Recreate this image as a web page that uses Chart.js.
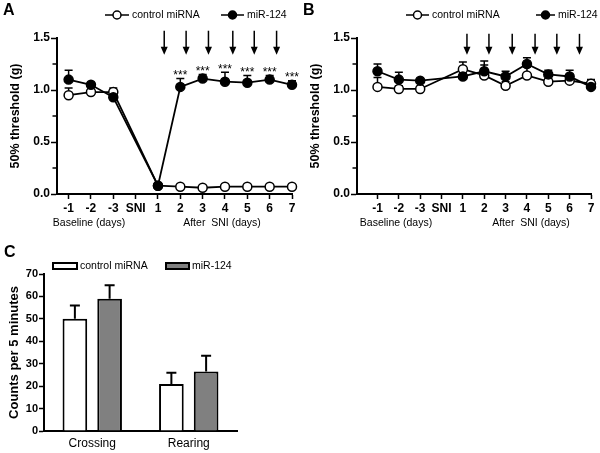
<!DOCTYPE html>
<html>
<head>
<meta charset="utf-8">
<script src="https://cdn.jsdelivr.net/npm/chart.js@4.4.0/dist/chart.umd.min.js"></script>
<style>
  body { margin: 0; background: #fff; }
  #wrap { position: relative; width: 600px; height: 453px; }
  canvas { position: absolute; }
</style>
</head>
<body>
<div id="wrap">
  <canvas id="chartA" width="300" height="235" style="left:0;top:0"></canvas>
  <canvas id="chartB" width="300" height="235" style="left:300px;top:0"></canvas>
  <canvas id="chartC" width="300" height="218" style="left:0;top:235px"></canvas>
</div>
<script>
// x categories for A and B
const days = ["-1", "-2", "-3", "SNI", "1", "2", "3", "4", "5", "6", "7"];

// panel A - 50% threshold (g)
const ctrlA = [0.95, 0.98, 0.98, null, 0.08, 0.07, 0.06, 0.07, 0.07, 0.07, 0.07];
const ctrlAErr = [0.07, 0.01, 0.04, null, 0, 0, 0, 0, 0, 0, 0];
const mirA = [1.10, 1.05, 0.93, null, 0.08, 1.03, 1.11, 1.08, 1.07, 1.10, 1.05];
const mirAErr = [0.09, 0.02, 0.02, null, 0, 0.08, 0.04, 0.09, 0.07, 0.04, 0.04];
const starsA = ["", "", "", "", "", "***", "***", "***", "***", "***", "***"];
const injectA = [4.28, 5.26, 6.26, 7.35, 8.31, 9.31];

// panel B
const ctrlB = [1.03, 1.01, 1.01, null, 1.20, 1.14, 1.04, 1.14, 1.08, 1.09, 1.06];
const ctrlBErr = [0.09, 0.03, 0.01, null, 0.07, 0.10, 0.04, 0.08, 0.03, 0.03, 0.04];
const mirB = [1.18, 1.10, 1.09, null, 1.13, 1.18, 1.13, 1.25, 1.15, 1.13, 1.03];
const mirBErr = [0.07, 0.07, 0.01, null, 0.03, 0.10, 0.05, 0.06, 0.04, 0.06, 0.03];
const injectB = [4.19, 5.22, 6.31, 7.38, 8.40, 9.46];

// panel C - counts per 5 minutes
const groups = ["Crossing", "Rearing"];
const ctrlC = [50, 21];
const ctrlCErr = [6, 5];
const mirC = [59, 26.5];
const mirCErr = [6, 7];

const FONT = "'Liberation Sans', Arial, sans-serif";
Chart.defaults.font.family = FONT;
Chart.defaults.color = "#000";
Chart.defaults.animation = false;

const extras = {
  id: "extras",
  beforeDatasetsDraw(chart, args, o) {
    const ctx = chart.ctx;
    const y = chart.scales.y;
    ctx.save();
    ctx.strokeStyle = "#000";
    ctx.lineWidth = o.errWidth || 1.5;
    chart.data.datasets.forEach((ds, i) => {
      if (!ds.errors) return;
      const meta = chart.getDatasetMeta(i);
      meta.data.forEach((el, j) => {
        const v = ds.values[j], e = ds.errors[j];
        if (v == null || !e) return;
        const y0 = y.getPixelForValue(v);
        const y1 = y.getPixelForValue(v + e);
        const w = (o.capWidth || 8) / 2;
        ctx.beginPath();
        ctx.moveTo(el.x, y0);
        ctx.lineTo(el.x, y1);
        ctx.moveTo(el.x - w, y1);
        ctx.lineTo(el.x + w, y1);
        ctx.stroke();
      });
    });
    ctx.restore();
  },
  afterDraw(chart, args, o) {
    const ctx = chart.ctx;
    const xs = chart.scales.x, ys = chart.scales.y;
    ctx.save();
    ctx.fillStyle = "#000";
    ctx.strokeStyle = "#000";

    // minor ticks
    (o.minor || []).forEach(v => {
      const py = ys.getPixelForValue(v);
      ctx.lineWidth = 1.5;
      ctx.beginPath();
      ctx.moveTo(ys.right - 4.5, py);
      ctx.lineTo(ys.right, py);
      ctx.stroke();
    });

    // injection arrows
    (o.arrows || []).forEach(a => {
      const px = xs.getPixelForValue(a);
      const t = ys.getPixelForValue(o.arrowFrom);
      const b = ys.getPixelForValue(o.arrowTo);
      ctx.lineWidth = 1.5;
      ctx.beginPath();
      ctx.moveTo(px, t);
      ctx.lineTo(px, b - 6);
      ctx.stroke();
      ctx.beginPath();
      ctx.moveTo(px - 3.5, b - 8);
      ctx.lineTo(px + 3.5, b - 8);
      ctx.lineTo(px, b);
      ctx.closePath();
      ctx.fill();
    });

    // significance stars
    if (o.stars) {
      const ds = chart.data.datasets[o.stars.dataset];
      ctx.font = "12px " + FONT;
      ctx.textAlign = "center";
      ctx.textBaseline = "alphabetic";
      o.stars.text.forEach((s, j) => {
        if (!s) return;
        const top = ys.getPixelForValue(ds.values[j] + (ds.errors[j] || 0));
        ctx.fillText(s, xs.getPixelForValue(j), top + 0.5);
      });
    }

    // legend
    (o.legend || []).forEach(l => {
      ctx.lineWidth = 1.5;
      if (l.type === "line") {
        ctx.beginPath();
        ctx.moveTo(l.x1, l.y);
        ctx.lineTo(l.x2, l.y);
        ctx.stroke();
        ctx.beginPath();
        ctx.arc((l.x1 + l.x2) / 2, l.y, 4, 0, Math.PI * 2);
        ctx.fillStyle = l.fill;
        ctx.fill();
        ctx.stroke();
      } else {
        ctx.lineWidth = 2;
        ctx.fillStyle = l.fill;
        ctx.fillRect(l.x1, l.y - 3, l.x2 - l.x1, 6);
        ctx.strokeRect(l.x1, l.y - 3, l.x2 - l.x1, 6);
      }
      ctx.fillStyle = "#000";
      ctx.font = "10.5px " + FONT;
      ctx.textAlign = "left";
      ctx.textBaseline = "middle";
      ctx.fillText(l.text, l.x2 + 3, l.y + 0.5);
    });

    // panel letter and extra axis titles
    if (o.letter) {
      ctx.font = "bold 16px " + FONT;
      ctx.textAlign = "left";
      ctx.textBaseline = "middle";
      ctx.fillText(o.letter.text, o.letter.x, o.letter.y);
    }
    (o.titles || []).forEach(t => {
      ctx.font = "10.5px " + FONT;
      ctx.textAlign = "center";
      ctx.textBaseline = "middle";
      ctx.fillText(t.text, t.x, t.y);
    });
    ctx.restore();
  }
};

function lineChart(id, ctrl, ctrlErr, mir, mirErr, xmin, right, extra) {
  const pts = arr => days.map((d, i) => ({ x: i, y: arr[i] }));
  return new Chart(document.getElementById(id), {
    type: "line",
    data: {
      datasets: [
        {
          label: "miR-124", data: pts(mir), values: mir, errors: mirErr, order: 0,
          borderColor: "#000", borderWidth: 1.8, pointRadius: 4.5, pointBorderWidth: 1.5,
          pointBackgroundColor: "#000", pointBorderColor: "#000", spanGaps: true, clip: false,
        },
        {
          label: "control miRNA", data: pts(ctrl), values: ctrl, errors: ctrlErr, order: 1,
          borderColor: "#000", borderWidth: 1.8, pointRadius: 4.5, pointBorderWidth: 1.5,
          pointBackgroundColor: "#fff", pointBorderColor: "#000", spanGaps: true, clip: false,
        },
      ],
    },
    options: {
      responsive: false,
      layout: { padding: { top: 38, right: right, left: 0, bottom: 0 } },
      plugins: { legend: { display: false }, tooltip: { enabled: false }, extras: extra },
      scales: {
        x: {
          type: "linear", min: xmin, max: 10,
          afterBuildTicks: s => { s.ticks = days.map((d, i) => ({ value: i })); },
          afterFit: s => { s.height = 41; },
          ticks: { callback: v => days[v], font: { size: 12, weight: "bold" }, padding: 2, autoSkip: false, maxRotation: 0 },
          grid: { drawOnChartArea: false, tickLength: 5, tickWidth: 1.5, tickColor: "#000" },
          border: { color: "#000", width: 2 },
        },
        y: {
          min: 0, max: 1.5,
          afterFit: s => { s.width = 57; },
          ticks: { stepSize: 0.5, callback: v => v.toFixed(1), font: { size: 12, weight: "bold" }, padding: 1 },
          grid: { drawOnChartArea: false, tickLength: 6, tickWidth: 1.5, tickColor: "#000" },
          border: { color: "#000", width: 2 },
          title: { display: true, text: "50% threshold (g)", font: { size: 12.5, weight: "bold" }, padding: { top: 8 } },
        },
      },
    },
    plugins: [extras],
  });
}

lineChart("chartA", ctrlA, ctrlAErr, mirA, mirAErr, -0.52, 8, {
  minor: [0.25, 0.75, 1.25],
  arrows: injectA, arrowFrom: 1.57, arrowTo: 1.34,
  stars: { dataset: 0, text: starsA },
  legend: [
    { type: "line", x1: 105, x2: 129, y: 15, fill: "#fff", text: "control miRNA" },
    { type: "line", x1: 221, x2: 244, y: 15, fill: "#000", text: "miR-124" },
  ],
  letter: { text: "A", x: 3, y: 11 },
  titles: [
    { text: "Baseline (days)", x: 89, y: 223 },
    { text: "After  SNI (days)", x: 222, y: 223 },
  ],
});

lineChart("chartB", ctrlB, ctrlBErr, mirB, mirBErr, -0.96, 9, {
  minor: [0.25, 0.75, 1.25],
  arrows: injectB, arrowFrom: 1.54, arrowTo: 1.34,
  legend: [
    { type: "line", x1: 106, x2: 129, y: 15, fill: "#fff", text: "control miRNA" },
    { type: "line", x1: 236, x2: 255, y: 15, fill: "#000", text: "miR-124" },
  ],
  letter: { text: "B", x: 3, y: 11 },
  titles: [
    { text: "Baseline (days)", x: 96, y: 223 },
    { text: "After  SNI (days)", x: 231, y: 223 },
  ],
});

new Chart(document.getElementById("chartC"), {
  type: "bar",
  data: {
    labels: groups,
    datasets: [
      { label: "control miRNA", data: ctrlC, values: ctrlC, errors: ctrlCErr, backgroundColor: "#fff", borderColor: "#000", borderWidth: 2 },
      { label: "miR-124", data: mirC, values: mirC, errors: mirCErr, backgroundColor: "#808080", borderColor: "#000", borderWidth: 2 },
    ],
  },
  options: {
    responsive: false,
    categoryPercentage: 0.72,
    barPercentage: 0.71,
    layout: { padding: { top: 39, right: 63, left: 0, bottom: 0 } },
    plugins: {
      legend: { display: false }, tooltip: { enabled: false },
      extras: {
        errWidth: 2, capWidth: 10,
        legend: [
          { type: "box", x1: 53, x2: 77, y: 31, fill: "#fff", text: "control miRNA" },
          { type: "box", x1: 166, x2: 189, y: 31, fill: "#808080", text: "miR-124" },
        ],
        letter: { text: "C", x: 4, y: 18 },
      },
    },
    scales: {
      x: {
        afterFit: s => { s.height = 22; },
        ticks: { font: { size: 12 }, padding: 5 },
        grid: { display: false, drawTicks: false },
        border: { color: "#000", width: 2 },
      },
      y: {
        min: 0, max: 70,
        afterFit: s => { s.width = 44; },
        ticks: { stepSize: 10, font: { size: 11, weight: "bold" }, padding: 1 },
        grid: { drawOnChartArea: false, tickLength: 5, tickWidth: 1.5, tickColor: "#000" },
        border: { color: "#000", width: 2 },
        title: { display: true, text: "Counts per 5 minutes", font: { size: 13, weight: "bold" }, padding: { top: 7 } },
      },
    },
  },
  plugins: [extras],
});
</script>
</body>
</html>
